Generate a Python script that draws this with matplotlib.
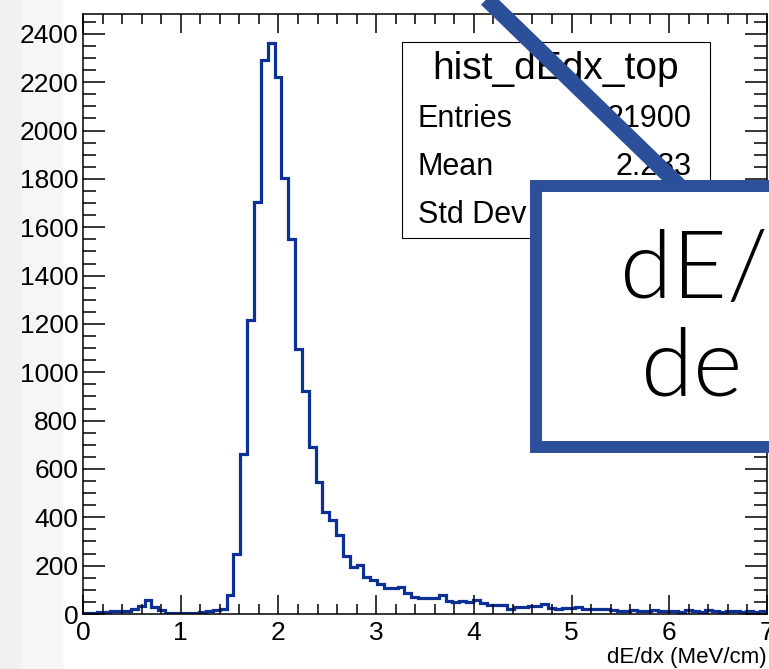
import numpy as np
import matplotlib
matplotlib.use("Agg")
import matplotlib.pyplot as plt
from matplotlib.patches import Rectangle
from matplotlib.lines import Line2D
from matplotlib.ticker import MultipleLocator

# dE/dx spectrum of top tracks, 100 bins between 0 and 7 MeV/cm
x_min, x_max, n_bins = 0.0, 7.0, 100
counts = [
    5, 5, 8, 8, 12, 14, 14, 22, 35, 57,
    30, 18, 5, 4, 4, 5, 5, 10, 12, 18,
    20, 80, 250, 661, 1215, 1705, 2293, 2364, 2222, 1803,
    1550, 1098, 922, 692, 548, 420, 388, 326, 241, 195,
    204, 154, 142, 125, 106, 106, 112, 86, 70, 65,
    68, 68, 78, 52, 50, 52, 50, 58, 44, 38,
    36, 38, 22, 30, 30, 34, 33, 40, 24, 22,
    24, 23, 28, 21, 20, 22, 22, 18, 14, 14,
    16, 14, 14, 15, 14, 12, 14, 10, 16, 14,
    10, 15, 13, 9, 14, 12, 8, 14, 10, 12,
]
hist_name = "hist_dEdx_top"
stat_labels = ["Entries", "Mean", "Std Dev"]
stat_values = ["21900", "2.283"]
x_title = "dE/dx (MeV/cm)"
note_lines = ["dE/", "de"]

W, H = 769, 669
line_col = "#0b3196"
note_col = "#2c4f99"


def fx(px):
    return px / W


def fy(py):
    return 1 - py / H


plt.rcParams["font.family"] = ["Liberation Sans", "DejaVu Sans"]

fig = plt.figure(figsize=(W / 100, H / 100), dpi=100)

# light grey strip on the far left of the slide
fig.patches.append(Rectangle((0, 0), fx(22), 1, transform=fig.transFigure,
                             color="#f1f1f1", zorder=-2))
fig.patches.append(Rectangle((fx(22), 0), fx(40), 1, transform=fig.transFigure,
                             color="#f6f6f6", zorder=-2))

ax = fig.add_axes([fx(83), 1 - 614 / H, 684 / W, 600 / H])
edges = np.linspace(x_min, x_max, n_bins + 1)
ax.stairs(counts, edges, color=line_col, linewidth=2.3, baseline=0)

ax.set_xlim(x_min, x_max)
ax.set_ylim(0, max(counts) * 1.05)
ax.xaxis.set_major_locator(MultipleLocator(1))
ax.xaxis.set_minor_locator(MultipleLocator(0.2))
ax.yaxis.set_major_locator(MultipleLocator(200))
ax.yaxis.set_minor_locator(MultipleLocator(50))
ax.tick_params(which="both", direction="in", top=True, right=True,
               width=1.1, colors="black", labelsize=19)
ax.tick_params(axis="x", which="major", length=13.5, pad=5)
ax.tick_params(axis="x", which="minor", length=7)
ax.tick_params(axis="y", which="major", length=16, pad=3.5)
ax.tick_params(axis="y", which="minor", length=9.5)
for sp in ax.spines.values():
    sp.set_linewidth(1.1)

fig.text(fx(767), fy(663), x_title, ha="right", va="baseline", fontsize=16)

# statistics box
fig.patches.append(Rectangle((fx(402), fy(238)), fx(710) - fx(402),
                             fy(42) - fy(238), transform=fig.transFigure,
                             facecolor="white", edgecolor="black",
                             linewidth=0.8, zorder=2))
fig.lines.append(Line2D([fx(402), fx(710)], [fy(90), fy(90)],
                        transform=fig.transFigure, color="black",
                        linewidth=0.8, zorder=2))
fig.text(fx(556), fy(79), hist_name, ha="center", va="baseline",
         fontsize=28, zorder=3)
for i, lab in enumerate(stat_labels):
    fig.text(fx(418), fy(127 + 48 * i), lab, ha="left", va="baseline",
             fontsize=22, zorder=3)
for i, val in enumerate(stat_values):
    fig.text(fx(692), fy(127 + 48 * i), val, ha="right", va="baseline",
             fontsize=22, zorder=3)

# annotation arrow line and callout box
fig.lines.append(Line2D([fx(467), fx(694)], [fy(-20), fy(200)],
                        transform=fig.transFigure, color=note_col,
                        linewidth=11.5, solid_capstyle="butt", zorder=4))
fig.patches.append(Rectangle((fx(536), fy(447)), fx(800) - fx(536),
                             fy(186) - fy(447), transform=fig.transFigure,
                             facecolor="white", edgecolor=note_col,
                             linewidth=8.6, zorder=5))
fig.text(fx(620), fy(298), note_lines[0], ha="left", va="baseline",
         fontsize=68, family="Lato", fontweight=300, zorder=6)
fig.text(fx(641), fy(395), note_lines[1], ha="left", va="baseline",
         fontsize=68, family="Lato", fontweight=300, zorder=6)

fig.savefig("out.png", dpi=100)
